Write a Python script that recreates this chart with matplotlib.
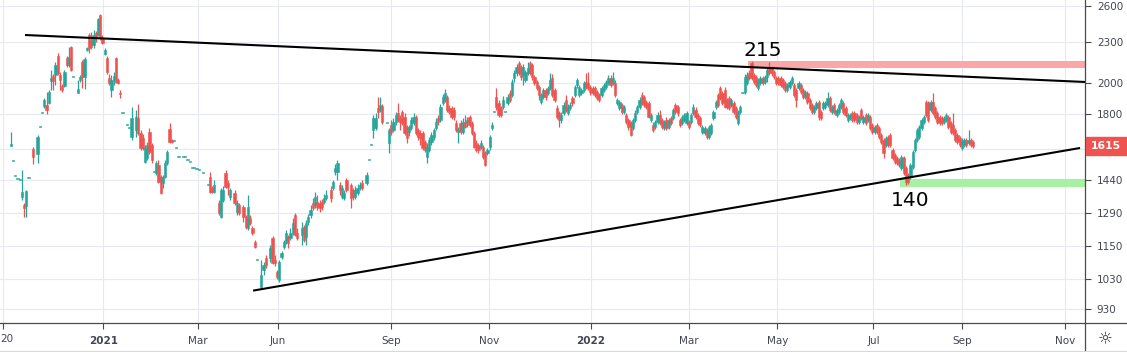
import numpy as np
import matplotlib
matplotlib.use("Agg")
import matplotlib.pyplot as plt
from matplotlib.patches import Rectangle
from matplotlib.lines import Line2D
from matplotlib.transforms import IdentityTransform, blended_transform_factory

nan = float("nan")

# Daily candles, one entry per trading session (nan = no trade that session)
opens = [
    1617, 1537, 1460, 1448, 1441, 1360, 1324, 1319, 1451, nan, 1600, nan,
    1574, 1724, 1808, 1852, 1858, 1871, 2016, 2050, 2057, 2194,
    2057, 1982, 1982, 2179, 2128, 2263, 2044, nan, 1935, 2023, 2150,
    2044, 2239, 2356, 2317, 2278, 2372, 2356, 2522, 2332, 2209,
    2179, 2037, 1955, 2023, 2179, 2023, 1935, 1808, nan, 1736, 1718,
    1667, nan, 1707, 1778, 1690, 1661, 1531, 1552, 1695, 1622, 1480,
    1475, 1516, 1456, 1426, 1456, 1526, 1713, 1650, 1645, 1606,
    1558, nan, 1558, 1558, 1542, 1531, 1501, 1501, 1495, 1490, nan, 1475, nan,
    1417, 1456, 1402, 1383, nan, 1333, 1271, 1346, 1475, 1426, 1360, nan,
    1379, 1293, 1324, nan, 1315, 1271, 1224, 1267, 1224, 1167, 1098, nan,
    1002, 1062, 1106, nan, 1106, 1184, 1098, 1054, 1026, 1109, 1148,
    1167, 1188, 1184, 1204, 1280, 1204, nan, 1196, 1229, 1188, 1249,
    1280, 1333, 1324, 1337, 1333, 1337, 1337, 1355, nan, 1393, 1402,
    1480, 1480, 1417, 1360, 1355, 1441, nan, 1417, 1393, 1360, 1379,
    1402, 1426, nan, 1426, 1542, 1622, 1707, 1718, 1839, 1827, 1852, nan,
    1748, 1633, 1736, 1707, 1754, 1808, 1778, 1815, 1784, 1724,
    1695, 1718, 1748, 1784, 1707, 1690, 1690, 1639, 1558, 1595,
    1639, 1667, 1718, 1778, 1766, 1871, 1890, 1909, 1839, 1839,
    1827, 1748, 1695, 1748, 1695, 1754, 1748, 1784, 1748, 1690,
    1633, 1622, 1611, 1611, 1579, 1579, 1611, 1718, 1815, 1909,
    1871, 1839, 1846, 1815, 1871, 1935, 1922, 2037, 2071, 2143,
    2114, 2057, 2023, 2071, 2143, 2128, 2044, 2009, 1975, 1877,
    1909, 1955, 1935, 1969, 2037, 1955, 1839, 1808, 1766, 1808,
    1890, 1808, 1839, 1903, 1922, 1989, 1922, 1935, 1955, 2009,
    2002, 1975, 1969, 1969, 1942, 1922, 1922, 1955, 1975, 2002,
    2037, 2002, 2002, 1871, 1839, 1858, 1815, 1796, 1766, 1748,
    1718, 1766, 1815, 1846, 1922, 1909, 1877, 1871, 1766, 1736,
    1724, 1754, 1796, 1766, 1718, 1766, 1724, 1778, 1778, 1858,
    1846, 1766, 1748, 1766, 1748, 1754, 1754, 1808, 1827, 1796,
    1778, 1695, 1690, 1707, 1667, 1690, 1778, 1846, 1922, 1969,
    1935, 1955, 1890, 1903, 1858, 1871, 1839, 1748, 1815, 1935,
    1942, 2002, 2071, 2143, 2057, 2044, 1969, 2002, 2037, 2009,
    2044, 2114, 2107, 2078, 2037, 2037, 2037, 2023, 2002, 1955,
    1975, 2002, 1989, 1955, 1969, 1989, 1955, 1909, 1935, 1890,
    1858, 1815, 1839, 1877, 1815, 1839, 1846, 1858, 1903, 1815,
    1858, 1796, 1815, 1846, 1871, 1839, 1766, 1778, 1808, 1808,
    1796, 1754, 1827, 1754, 1796, 1766, 1784, 1736, 1695, 1736,
    1718, 1678, 1650, 1622, 1667, 1678, 1595, 1568, 1552, 1542,
    1501, 1552, 1501, 1465, 1456, 1506, 1595, 1650, 1667, 1718,
    1754, 1877, 1871, 1827, 1877, 1839, 1808, 1784, 1778, 1754,
    1766, 1784, 1748, 1736, 1707, 1678, 1661, 1606, 1622, 1650,
    1633, 1650, 1639,
]
highs = [
    1695, 1537, 1460, 1448, 1441, 1490, 1333, 1393, 1451, nan, 1611, nan,
    1678, 1724, 1808, 1903, 1942, 1955, 2093, 2064, 2150, 2217,
    2078, 1996, 2093, 2194, 2263, 2270, 2044, nan, 2023, 2057, 2165,
    2187, 2263, 2372, 2380, 2397, 2388, 2496, 2530, 2356, 2255,
    2194, 2064, 2057, 2078, 2187, 2037, 1955, 1808, nan, 1736, 1718,
    1846, nan, 1827, 1864, 1707, 1684, 1622, 1639, 1718, 1633, 1480,
    1537, 1542, 1465, 1465, 1542, 1595, 1748, 1656, 1645, 1606,
    1558, nan, 1558, 1558, 1542, 1531, 1501, 1501, 1495, 1490, nan, 1475, nan,
    1417, 1480, 1412, 1441, nan, 1346, 1402, 1412, 1490, 1441, 1402, nan,
    1393, 1346, 1333, nan, 1324, 1280, 1369, 1280, 1233, 1175, 1098, nan,
    1098, 1091, 1117, nan, 1156, 1192, 1117, 1062, 1098, 1132, 1175,
    1216, 1196, 1224, 1267, 1288, 1224, nan, 1249, 1237, 1258, 1284,
    1324, 1355, 1383, 1369, 1346, 1351, 1374, 1393, nan, 1412, 1441,
    1521, 1542, 1431, 1417, 1393, 1451, nan, 1426, 1402, 1412, 1421,
    1431, 1441, nan, 1480, 1542, 1622, 1796, 1808, 1909, 1909, 1864, nan,
    1748, 1718, 1766, 1778, 1815, 1871, 1796, 1827, 1808, 1736,
    1736, 1784, 1808, 1796, 1718, 1707, 1701, 1650, 1633, 1667,
    1695, 1718, 1778, 1796, 1864, 1929, 1962, 1922, 1858, 1852,
    1846, 1766, 1724, 1766, 1778, 1796, 1784, 1796, 1760, 1701,
    1650, 1633, 1650, 1622, 1590, 1606, 1678, 1754, 1815, 1969,
    1890, 1852, 1916, 1815, 1929, 1955, 2030, 2093, 2135, 2157,
    2128, 2135, 2093, 2150, 2157, 2143, 2057, 2023, 1989, 1935,
    1969, 1969, 1982, 2071, 2064, 1969, 1858, 1821, 1815, 1877,
    1922, 1864, 1877, 1916, 1989, 2037, 1989, 1969, 2016, 2071,
    2078, 1989, 1982, 1982, 1955, 1935, 1982, 2002, 2023, 2057,
    2057, 2078, 2023, 1903, 1890, 1871, 1858, 1808, 1778, 1760,
    1778, 1827, 1858, 1909, 1942, 1922, 1890, 1884, 1808, 1754,
    1766, 1815, 1827, 1778, 1766, 1784, 1778, 1790, 1839, 1871,
    1858, 1778, 1796, 1808, 1821, 1766, 1808, 1864, 1846, 1808,
    1790, 1736, 1730, 1718, 1736, 1748, 1827, 1890, 1935, 1982,
    1949, 1975, 1903, 1916, 1903, 1884, 1852, 1827, 1858, 1935,
    2064, 2078, 2093, 2157, 2071, 2057, 2037, 2050, 2050, 2057,
    2107, 2150, 2121, 2093, 2050, 2050, 2050, 2037, 2016, 2002,
    2023, 2050, 2002, 1969, 2016, 2002, 1969, 1955, 1949, 1903,
    1871, 1858, 1884, 1890, 1827, 1884, 1884, 1942, 1916, 1858,
    1871, 1839, 1871, 1903, 1884, 1852, 1808, 1808, 1821, 1821,
    1808, 1796, 1839, 1796, 1808, 1808, 1796, 1748, 1736, 1748,
    1730, 1690, 1661, 1673, 1678, 1690, 1606, 1579, 1563, 1552,
    1568, 1563, 1511, 1475, 1526, 1595, 1661, 1718, 1736, 1778,
    1796, 1890, 1884, 1890, 1935, 1852, 1821, 1796, 1790, 1790,
    1808, 1796, 1760, 1808, 1718, 1690, 1673, 1661, 1661, 1661,
    1707, 1661, 1650,
]
lows = [
    1617, 1537, 1460, 1448, 1441, 1346, 1271, 1271, 1451, nan, 1521, nan,
    1526, 1724, 1808, 1839, 1802, 1864, 1955, 1955, 1989, 2057,
    1955, 1942, 1975, 2114, 2114, 2085, 2044, nan, 1935, 2009, 1969,
    1962, 2232, 2217, 2247, 2255, 2301, 2348, 2317, 2286, 2202,
    2064, 1989, 1909, 1989, 2002, 1996, 1903, 1808, nan, 1736, 1718,
    1650, nan, 1667, 1678, 1595, 1595, 1526, 1542, 1574, 1526, 1480,
    1465, 1426, 1374, 1402, 1451, 1516, 1633, 1633, 1645, 1606,
    1558, nan, 1558, 1558, 1542, 1531, 1501, 1501, 1495, 1490, nan, 1475, nan,
    1417, 1379, 1379, 1379, nan, 1280, 1267, 1337, 1402, 1369, 1346, nan,
    1324, 1280, 1280, nan, 1249, 1220, 1216, 1237, 1196, 1144, 1098, nan,
    995, 1044, 1069, nan, 1091, 1083, 1076, 1030, 1019, 1102, 1140,
    1159, 1144, 1175, 1196, 1192, 1175, nan, 1156, 1167, 1156, 1237,
    1267, 1301, 1310, 1301, 1293, 1301, 1328, 1346, nan, 1337, 1393,
    1465, 1441, 1369, 1351, 1346, 1383, nan, 1310, 1346, 1351, 1369,
    1393, 1393, nan, 1417, 1542, 1622, 1661, 1707, 1778, 1815, 1742, nan,
    1748, 1579, 1678, 1695, 1736, 1754, 1707, 1736, 1678, 1633,
    1673, 1707, 1736, 1678, 1650, 1622, 1595, 1584, 1526, 1584,
    1622, 1650, 1707, 1736, 1754, 1858, 1877, 1815, 1802, 1772,
    1766, 1695, 1633, 1684, 1684, 1718, 1724, 1724, 1678, 1606,
    1584, 1579, 1600, 1547, 1511, 1568, 1595, 1707, 1815, 1827,
    1784, 1784, 1833, 1815, 1858, 1877, 1909, 2009, 2050, 2057,
    2023, 1989, 2009, 2057, 2057, 2023, 1989, 1955, 1890, 1864,
    1896, 1890, 1922, 1955, 1909, 1877, 1772, 1724, 1748, 1796,
    1815, 1796, 1827, 1852, 1909, 1969, 1909, 1922, 1942, 1962,
    1955, 1922, 1922, 1909, 1890, 1877, 1909, 1942, 1962, 1989,
    1975, 1989, 1909, 1858, 1827, 1802, 1802, 1742, 1707, 1673,
    1707, 1754, 1802, 1833, 1858, 1846, 1833, 1778, 1754, 1695,
    1713, 1742, 1736, 1713, 1707, 1707, 1713, 1736, 1766, 1802,
    1790, 1724, 1736, 1754, 1736, 1713, 1742, 1796, 1772, 1736,
    1724, 1684, 1678, 1656, 1656, 1678, 1766, 1833, 1846, 1890,
    1858, 1839, 1833, 1827, 1846, 1802, 1772, 1736, 1802, 1935,
    1929, 1989, 2023, 2023, 1996, 1975, 1955, 1989, 1989, 1996,
    2009, 2057, 2050, 2030, 1989, 1989, 1975, 1962, 1942, 1942,
    1962, 1989, 1909, 1846, 1955, 1929, 1896, 1896, 1864, 1827,
    1802, 1802, 1827, 1766, 1766, 1827, 1833, 1846, 1815, 1802,
    1802, 1784, 1802, 1833, 1802, 1784, 1754, 1766, 1754, 1754,
    1742, 1742, 1766, 1742, 1736, 1754, 1707, 1684, 1684, 1684,
    1656, 1628, 1552, 1611, 1611, 1611, 1542, 1521, 1516, 1506,
    1490, 1465, 1417, 1421, 1446, 1495, 1584, 1639, 1656, 1707,
    1742, 1784, 1754, 1815, 1796, 1772, 1742, 1736, 1736, 1742,
    1754, 1713, 1684, 1678, 1639, 1628, 1611, 1595, 1611, 1611,
    1622, 1611, 1606,
]
closes = [
    1628, 1537, 1460, 1448, 1441, 1383, 1310, 1388, 1451, nan, 1558, nan,
    1667, 1724, 1808, 1890, 1827, 1942, 2037, 2016, 2128, 2071,
    2023, 1955, 2078, 2128, 2187, 2093, 2044, nan, 1962, 2044, 2044,
    2172, 2255, 2255, 2263, 2356, 2332, 2488, 2332, 2293, 2239,
    2078, 2002, 2023, 2050, 2009, 2002, 1929, 1808, nan, 1736, 1718,
    1778, nan, 1784, 1690, 1606, 1606, 1606, 1622, 1584, 1542, 1480,
    1526, 1431, 1379, 1456, 1526, 1584, 1639, 1639, 1645, 1606,
    1558, nan, 1558, 1558, 1542, 1531, 1501, 1501, 1495, 1490, nan, 1475, nan,
    1417, 1383, 1383, 1417, nan, 1288, 1393, 1393, 1407, 1407, 1393, nan,
    1333, 1333, 1288, nan, 1271, 1229, 1315, 1245, 1204, 1148, 1098, nan,
    1044, 1080, 1080, nan, 1144, 1087, 1087, 1037, 1091, 1125, 1167,
    1204, 1163, 1204, 1245, 1196, 1184, nan, 1224, 1175, 1245, 1271,
    1301, 1310, 1360, 1315, 1310, 1315, 1355, 1369, nan, 1355, 1431,
    1501, 1526, 1393, 1402, 1379, 1393, nan, 1355, 1360, 1393, 1402,
    1417, 1402, nan, 1465, 1542, 1622, 1778, 1778, 1815, 1858, 1754, nan,
    1748, 1707, 1695, 1754, 1796, 1766, 1754, 1748, 1690, 1661,
    1724, 1766, 1784, 1690, 1667, 1661, 1606, 1595, 1611, 1650,
    1678, 1707, 1754, 1754, 1846, 1909, 1935, 1827, 1815, 1784,
    1784, 1707, 1707, 1695, 1754, 1724, 1766, 1736, 1690, 1611,
    1595, 1595, 1633, 1558, 1516, 1595, 1667, 1736, 1815, 1846,
    1796, 1796, 1890, 1815, 1909, 1890, 2009, 2071, 2114, 2071,
    2044, 2114, 2078, 2107, 2071, 2044, 2002, 1969, 1922, 1922,
    1955, 1909, 1969, 2023, 1922, 1890, 1784, 1766, 1796, 1858,
    1827, 1846, 1858, 1871, 1975, 2023, 1975, 1955, 2002, 1975,
    1969, 1942, 1935, 1922, 1903, 1890, 1969, 1989, 2009, 2037,
    1989, 2037, 1922, 1890, 1877, 1815, 1846, 1754, 1724, 1678,
    1766, 1808, 1846, 1890, 1871, 1858, 1846, 1784, 1796, 1707,
    1754, 1796, 1748, 1724, 1754, 1718, 1766, 1748, 1827, 1815,
    1808, 1736, 1784, 1796, 1808, 1724, 1796, 1846, 1784, 1748,
    1736, 1724, 1718, 1667, 1724, 1736, 1815, 1877, 1858, 1903,
    1871, 1846, 1846, 1839, 1890, 1815, 1784, 1815, 1846, 1935,
    2044, 2057, 2037, 2037, 2009, 1989, 2023, 2037, 2002, 2044,
    2093, 2071, 2071, 2044, 2002, 2002, 1989, 1975, 1955, 1989,
    2009, 2037, 1922, 1890, 2002, 1942, 1909, 1942, 1877, 1839,
    1815, 1846, 1871, 1784, 1778, 1871, 1871, 1903, 1827, 1846,
    1815, 1827, 1858, 1890, 1815, 1796, 1796, 1796, 1766, 1766,
    1754, 1784, 1778, 1784, 1748, 1796, 1718, 1695, 1724, 1695,
    1667, 1639, 1579, 1661, 1622, 1622, 1552, 1531, 1526, 1516,
    1558, 1475, 1431, 1431, 1516, 1584, 1650, 1707, 1724, 1766,
    1784, 1796, 1766, 1877, 1808, 1784, 1754, 1748, 1748, 1778,
    1796, 1724, 1695, 1690, 1650, 1639, 1622, 1650, 1650, 1622,
    1650, 1622, 1615,
]

# time axis labels (session number where each month starts)
month_sessions = [-3.4, 41.4, 83.7, 119.5, 170, 213.7, 259.3, 303, 342.5, 385.5, 425, 471]
month_labels = ["20", "2021", "Mar", "Jun", "Sep", "Nov", "2022", "Mar", "May", "Jul", "Sep", "Nov"]
price_ticks = [930, 1030, 1150, 1290, 1440, 1600, 1800, 2000, 2300, 2600]
price_labels = ["930", "1030", "1150", "1290", "1440", "", "1800", "2000", "2300", "2600"]

# drawings: trend lines, zones and level notes
upper_line_sessions = [6.4, 480]
upper_line_prices = [2356, 2009]
lower_line_sessions = [108.3, 477.8]
lower_line_prices = [990, 1606]
resist_start, resist_low, resist_high = 329.4, 2107, 2157
support_start, support_low, support_high = 397.4, 1407, 1446
note_sessions = [336, 401.8]
note_prices = [2236, 1344]
note_texts = ["215", "140"]

green = "#26a69a"
red = "#ef5350"
grid_col = "#e6e9ef"
axis_col = "#4a4a4a"
text_col = "#434651"

o = np.array(opens, dtype=float)
h = np.array(highs, dtype=float)
l = np.array(lows, dtype=float)
c = np.array(closes, dtype=float)
x = np.arange(len(o))
ok = ~np.isnan(o)
x, o, h, l, c = x[ok], o[ok], h[ok], l[ok], c[ok]
cols = np.where(c >= o, green, red)

W, H = 1127, 352
fig = plt.figure(figsize=(W / 100, H / 100), dpi=100)
ax = fig.add_axes([0, (H - 323) / H, 1085 / W, 323 / H])
ax.set_yscale("log")
ax.set_xlim(-4.78, 480.0)
ax.set_ylim(887, 2653)

# zones under everything
ax.fill_between([resist_start, 480], resist_low, resist_high, color="#f9a7a7", lw=0, zorder=1)
ax.fill_between([support_start, 480], support_low, support_high, color="#a6f2a2", lw=0, zorder=1)

# candles
ax.vlines(x, l, h, colors=cols, lw=0.9, zorder=2)
bottom = np.minimum(o, c)
height = np.abs(c - o)
height = np.where(height < bottom * 0.003, bottom * 0.003, height)
ax.bar(x, height, bottom=bottom, width=1.0, color=cols, edgecolor=cols, lw=0.4, zorder=2)

# trend lines
ax.plot(upper_line_sessions, upper_line_prices, color="black", lw=1.5, zorder=3, solid_capstyle="butt")
ax.plot(lower_line_sessions, lower_line_prices, color="black", lw=1.5, zorder=3, solid_capstyle="butt")

for s, p, t in zip(note_sessions, note_prices, note_texts):
    ax.text(s, p, t, ha="center", va="center", fontsize=14.5, color="black", zorder=4)

# axes styling
ax.yaxis.tick_right()
ax.yaxis.set_major_locator(plt.FixedLocator(price_ticks))
ax.yaxis.set_major_formatter(plt.FixedFormatter(price_labels))
ax.yaxis.set_minor_locator(plt.NullLocator())
ax.set_xticks(month_sessions)
# the first label sits against the left edge, so it is drawn separately
ax.set_xticklabels([""] + month_labels[1:])
for lab in ax.get_xticklabels():
    if lab.get_text() in ("2021", "2022"):
        lab.set_fontweight("bold")
ax.tick_params(axis="y", direction="out", length=4, width=0.8, colors=axis_col,
               labelcolor=text_col, labelsize=7.5, pad=4.5)
ax.tick_params(axis="x", direction="out", length=4, width=0.8, colors=axis_col,
               labelcolor=text_col, labelsize=7.5, pad=5)
ax.grid(True, color=grid_col, lw=0.8, zorder=0)
ax.set_axisbelow(True)
for side in ["left", "top", "right", "bottom"]:
    ax.spines[side].set_visible(False)

first_tr = blended_transform_factory(fig.transFigure, fig.transFigure)
fig.text(0.5 / W, (H - 339) / H, month_labels[0], ha="left", va="center",
         fontsize=7.5, color=text_col)

# frame lines of the price scale and time scale
fig.add_artist(Line2D([0, 1], [(H - 323) / H] * 2, color=axis_col, lw=0.9, transform=fig.transFigure))
fig.add_artist(Line2D([1085 / W] * 2, [0, 1], color=axis_col, lw=0.9, transform=fig.transFigure))
fig.add_artist(Line2D([0, 1], [1.5 / H] * 2, color="#d6d9de", lw=0.8, transform=fig.transFigure))

# last price label on the price scale
fig.canvas.draw()
yp = ax.transData.transform((0, c[-1]))[1]
fig.add_artist(Rectangle((1085.5, yp - 9), 42, 18, color=red, transform=IdentityTransform(), zorder=5))
fig.text(1106 / W, yp / H, "%d" % c[-1], ha="center", va="center", color="white",
         fontsize=7.8, fontweight="bold", zorder=6)

# settings icon under the price scale
fig.text(1105 / W, (H - 339) / H, "\u263c", ha="center", va="center", fontsize=12, color="#333333")

fig.savefig("out.png", dpi=100)
